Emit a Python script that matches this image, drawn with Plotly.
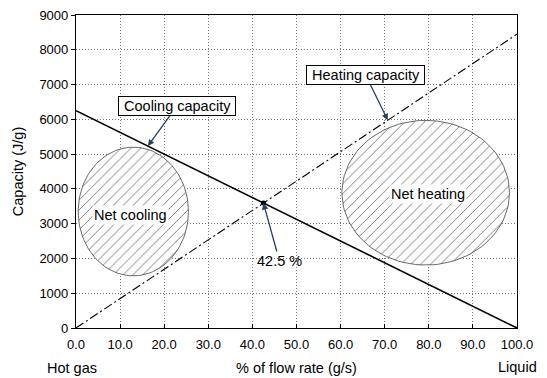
import numpy as np
import plotly.graph_objects as go

# ---- data ----
flow = [0.0, 100.0]
cooling_capacity = [6250, 0]
heating_capacity = [0, 8450]
crossing_x = [42.5]
crossing_y = [3594]

# ellipse regions: centre x, centre y, radius x, radius y
net_cooling_ellipse = [13.0, 3350, 12.5, 1850]
net_heating_ellipse = [79.3, 3890, 19.0, 2080]

x_ticks = [0, 10, 20, 30, 40, 50, 60, 70, 80, 90, 100]
x_tick_labels = ["0.0", "10.0", "20.0", "30.0", "40.0", "50.0", "60.0", "70.0", "80.0", "90.0", "100.0"]
y_ticks = [0, 1000, 2000, 3000, 4000, 5000, 6000, 7000, 8000, 9000]

FONT = "Liberation Sans, Arial, sans-serif"

def ellipse(p, n=120):
    t = np.linspace(0, 2 * np.pi, n)
    return p[0] + p[2] * np.cos(t), p[1] + p[3] * np.sin(t)

fig = go.Figure()

for p in (net_cooling_ellipse, net_heating_ellipse):
    ex, ey = ellipse(p)
    fig.add_trace(go.Scatter(
        x=ex, y=ey, mode="lines", fill="toself",
        line=dict(color="#444", width=0.8),
        fillcolor="white",
        fillpattern=dict(shape="/", fgcolor="#000", bgcolor="white", size=7, solidity=0.14),
        hoverinfo="skip", showlegend=False))

fig.add_trace(go.Scatter(x=flow, y=cooling_capacity, mode="lines",
                         line=dict(color="black", width=1.6), showlegend=False))
fig.add_trace(go.Scatter(x=flow, y=heating_capacity, mode="lines",
                         line=dict(color="black", width=1.1, dash="9px,3px,2px,3px"),
                         showlegend=False))
fig.add_trace(go.Scatter(x=crossing_x, y=crossing_y, mode="markers",
                         marker=dict(color="black", size=5), showlegend=False))

ann_font = dict(family=FONT, size=14.5, color="black")
fig.add_annotation(x=16.3, y=5230, ax=29, ay=-40, text="\u00a0Cooling capacity\u00a0",
                   showarrow=True, arrowhead=2, arrowsize=1, arrowwidth=1.3,
                   bordercolor="black", borderwidth=1, borderpad=1, bgcolor="white",
                   font=ann_font)
fig.add_annotation(x=70.7, y=5975, ax=-22, ay=-45, text="\u00a0Heating capacity\u00a0",
                   showarrow=True, arrowhead=2, arrowsize=1, arrowwidth=1.3,
                   bordercolor="black", borderwidth=1, borderpad=1, bgcolor="white",
                   font=ann_font)
fig.add_annotation(x=42.5, y=3594, ax=16, ay=58, text="42.5 %",
                   showarrow=True, arrowhead=2, arrowsize=1, arrowwidth=1.3,
                   font=ann_font)
fig.add_annotation(x=12.4, y=3250, text="Net cooling", showarrow=False, font=ann_font,
                   bgcolor="white")
fig.add_annotation(x=79.8, y=3850, text="Net heating", showarrow=False, font=ann_font,
                   bgcolor="white")

# axis side labels
fig.add_annotation(xref="paper", yref="paper", x=-0.009, y=-0.128, text="Hot gas",
                   showarrow=False, font=ann_font, xanchor="center", yanchor="middle")
fig.add_annotation(xref="paper", yref="paper", x=1.0, y=-0.125, text="Liquid",
                   showarrow=False, font=ann_font, xanchor="center", yanchor="middle")

grid = dict(showgrid=True, gridcolor="#777", griddash="1px,2px", gridwidth=1)
fig.update_layout(
    width=547, height=378,
    margin=dict(l=76, r=30, t=15, b=50),
    paper_bgcolor="white", plot_bgcolor="white",
    font=dict(family=FONT, size=13, color="black"),
    xaxis=dict(range=[0, 100], tickvals=x_ticks, ticktext=x_tick_labels, **grid,
               showline=True, linecolor="black", linewidth=1.2, mirror=True,
               ticks="inside", ticklen=4, tickcolor="black", zeroline=False,
               ticklabelstandoff=4, automargin=False,
               title=dict(text="% of flow rate (g/s)", font=dict(family=FONT, size=14.5), standoff=12)),
    yaxis=dict(range=[0, 9000], tickvals=y_ticks, **grid,
               showline=True, linecolor="black", linewidth=1.2, mirror=True,
               ticks="outside", ticklen=4, tickcolor="black", zeroline=False,
               automargin=False,
               title=dict(text="Capacity (J/g)", font=dict(family=FONT, size=14.5), standoff=12)),
)

fig.write_html("out.html")
